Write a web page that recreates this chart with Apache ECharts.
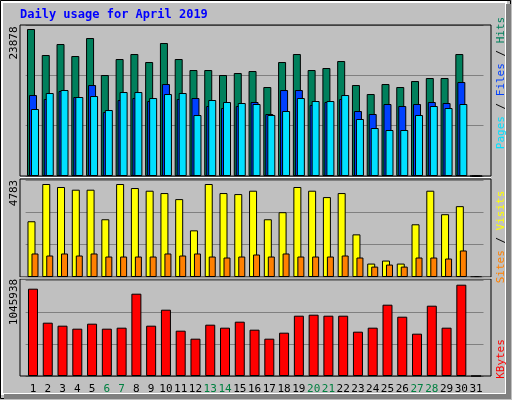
<!DOCTYPE html>
<html>
<head>
<meta charset="utf-8">
<script src="https://cdn.jsdelivr.net/npm/echarts@6/dist/echarts.min.js"></script>
<style>
  html, body { margin: 0; padding: 0; background: #c0c0c0; }
  #chart { width: 512px; height: 400px; }
</style>
</head>
<body>
<div id="chart"></div>
<script>
const days = Array.from({ length: 31 }, (_, i) => String(i + 1));
const weekends = ["6", "7", "13", "14", "20", "21", "27", "28"];

const hits = [23878, 19650, 21437, 19488, 22411, 16402, 19001, 19813, 18514, 21599, 19001, 17214, 17214, 16402, 16727,
  17052, 14454, 18514, 19813, 17214, 17539, 18676, 14778, 13317, 14941, 14454, 15428, 15915, 15915, 19813, 0];
const files = [13154, 12505, 13804, 12830, 14778, 10394, 12342, 12667, 12180, 14941, 12505, 12667, 11368, 11043, 11368,
  12018, 10069, 13966, 13966, 11530, 12018, 12505, 10556, 10069, 11693, 11368, 11693, 12018, 11855, 15266, 0];
const pages = [10881, 13479, 13966, 12830, 12992, 10718, 13642, 13642, 12667, 13317, 13479, 9906, 12342, 12018, 11855,
  11693, 9906, 10556, 12667, 12180, 12180, 13154, 9257, 7795, 7470, 7470, 9906, 11368, 11043, 11693, 0];
const visits = [2867, 4783, 4628, 4490, 4490, 2970, 4783, 4576, 4438, 4317, 4006, 2400, 4783, 4317, 4265,
  4438, 2970, 3333, 4628, 4438, 4110, 4317, 2193, 691, 846, 691, 2711, 4438, 3229, 3644, 0];
const sites = [1209, 1105, 1209, 1105, 1209, 1053, 1053, 1053, 1053, 1209, 1105, 1209, 1053, 1002, 1053,
  1157, 1053, 1209, 1053, 1053, 1053, 1105, 1002, 535, 639, 535, 1002, 1002, 950, 1364, 0];
const kbytes = [1000133, 610768, 576412, 542057, 599316, 542057, 553509, 942873, 576412, 759643, 519153, 427538, 587864, 553509, 622220,
  530604, 427538, 496249, 690931, 702383, 690931, 690931, 507701, 553509, 816902, 679479, 484797, 805450, 553509, 1045938, 0];

const maxHits = 23878, maxVisits = 4783, maxKB = 1045938;
const topMax = maxHits * 151 / 147;
const midMax = maxVisits * 97 / 93;
const botMax = maxKB * 96 / 91.3;

const mono = "DejaVu Sans Mono";
const grids = [
  { left: 25.6, right: 28.5, top: 25, height: 151 },
  { left: 25.6, right: 28.5, top: 180, height: 97 },
  { left: 25.6, right: 28.5, top: 280, height: 96 }
];

const xAxis = grids.map((g, i) => ({
  type: "category", gridIndex: i, data: days,
  axisLine: { show: false }, axisTick: { show: false },
  axisLabel: i === 2 ? {
    show: true, margin: 8, interval: 0, fontFamily: mono, fontSize: 11,
    color: (v) => weekends.includes(v) ? "#008040" : "#000"
  } : { show: false }
}));

const mkY = (i, max) => ({
  type: "value", gridIndex: i, min: 0, max: max, interval: max / 3,
  axisLabel: { show: false }, axisLine: { show: false }, axisTick: { show: false },
  splitLine: { show: true, lineStyle: { color: "#808080", width: 1 } }
});

const bar = (name, data, color, xi, w, gap) => ({
  name, type: "bar", xAxisIndex: xi, yAxisIndex: xi, data,
  barWidth: w, barGap: gap, animation: false,
  itemStyle: { color, borderColor: "#000", borderWidth: 1 }
});

const frame = (y, h) => ({
  type: "rect", shape: { x: 20, y: y, width: 471, height: h },
  style: { fill: null, stroke: "#000", lineWidth: 1 }, z: 10
});
const vtext = (x, y, text, fill, extra) => Object.assign({
  type: "text", x, y, rotation: Math.PI / 2,
  style: { text, fill, font: "11px " + mono, align: "center", verticalAlign: "middle" }, z: 20
}, extra || {});

const option = {
  backgroundColor: "#c0c0c0",
  animation: false,
  grid: grids,
  xAxis,
  yAxis: [mkY(0, topMax), mkY(1, midMax), mkY(2, botMax)],
  series: [
    bar("Hits", hits, "#00805c", 0, 8, "-75%"),
    bar("Files", files, "#0040ff", 0, 8, "-75%"),
    bar("Pages", pages, "#00e0ff", 0, 8, "-75%"),
    bar("Visits", visits, "#ffff00", 1, 8, "-50%"),
    bar("Sites", sites, "#ff8000", 1, 7, "-50%"),
    bar("KBytes", kbytes, "#ff0000", 2, 10, "0%")
  ],
  graphic: [
    { type: "rect", shape: { x: 0.5, y: 0.5, width: 510, height: 398 },
      style: { fill: null, stroke: "#000", lineWidth: 1 }, z: 5 },
    { type: "rect", shape: { x: 2, y: 2, width: 504, height: 392 },
      style: { fill: null, stroke: "#fff", lineWidth: 2 }, z: 5 },
    { type: "rect", shape: { x: 506, y: 4, width: 5, height: 395 }, style: { fill: "#808080" }, z: 5 },
    { type: "rect", shape: { x: 4, y: 394, width: 507, height: 5 }, style: { fill: "#808080" }, z: 5 },
    frame(25, 151), frame(179, 98), frame(279, 97),
    { type: "line", shape: { x1: 20, y1: 177.5, x2: 491, y2: 177.5 }, style: { stroke: "#fff", lineWidth: 1 }, z: 10 },
    { type: "line", shape: { x1: 20, y1: 278, x2: 491, y2: 278 }, style: { stroke: "#fff", lineWidth: 1 }, z: 10 },
    { type: "text", x: 20, y: 15, z: 20,
      style: { text: "Daily usage for April 2019", fill: "#0000ff", font: "bold 12px " + mono, verticalAlign: "middle" } },
    vtext(14, 43, String(maxHits), "#000"),
    vtext(14, 193, String(maxVisits), "#000"),
    vtext(14, 302, String(maxKB), "#000"),
    vtext(501, 83, "", "#000", {
      style: {
        text: "{p|Pages} {s|/} {f|Files} {s|/} {h|Hits}",
        font: "11px " + mono, align: "center", verticalAlign: "middle",
        rich: {
          p: { fill: "#00e0ff", font: "11px " + mono },
          f: { fill: "#0040ff", font: "11px " + mono },
          h: { fill: "#00805c", font: "11px " + mono },
          s: { fill: "#000", font: "11px " + mono }
        }
      }
    }),
    vtext(501, 237, "", "#000", {
      style: {
        text: "{a|Sites} {s|/} {b|Visits}",
        font: "11px " + mono, align: "center", verticalAlign: "middle",
        rich: {
          a: { fill: "#ff8000", font: "11px " + mono },
          b: { fill: "#ffff00", font: "11px " + mono },
          s: { fill: "#000", font: "11px " + mono }
        }
      }
    }),
    vtext(501, 359, "KBytes", "#ff0000")
  ]
};

const chart = echarts.init(document.getElementById("chart"), null, { renderer: "canvas" });
chart.setOption(option);
</script>
</body>
</html>
